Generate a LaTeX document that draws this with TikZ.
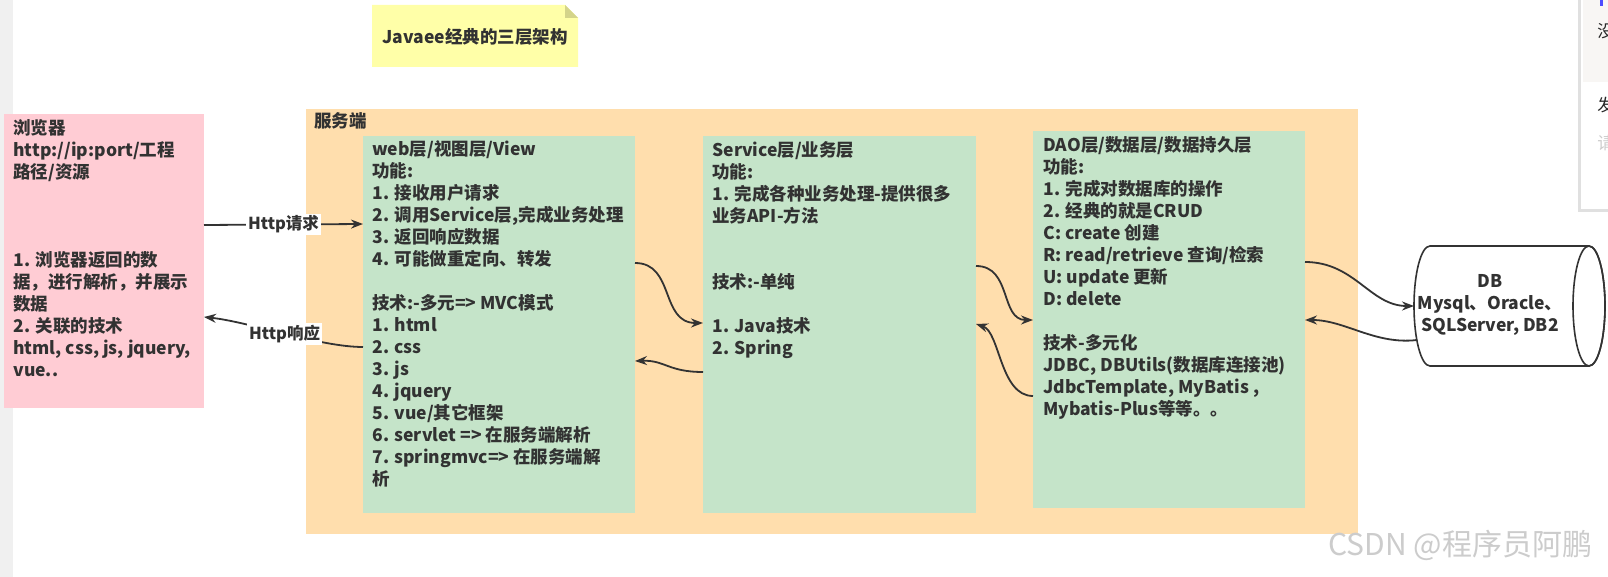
\documentclass[tikz,border=0pt]{standalone}
\usepackage{fontspec}
\setmainfont{Noto Sans CJK SC}
\usetikzlibrary{arrows.meta}
\definecolor{txt}{HTML}{323232}
\definecolor{pinkc}{HTML}{FFCCD4}
\definecolor{orangec}{HTML}{FFDEAD}
\definecolor{greenc}{HTML}{C5E4C9}
\definecolor{notec}{HTML}{FFFFA8}
\definecolor{foldc}{HTML}{D4D48A}
\definecolor{stripc}{HTML}{F0F0F0}
\definecolor{linec}{HTML}{333333}
\definecolor{wmc}{HTML}{CCCCCC}
\definecolor{panelc}{HTML}{F8F6F4}
\begin{document}
\begin{tikzpicture}[x=0.5pt,y=-0.5pt,
  box/.style={anchor=north west, inner sep=0pt, outer sep=0pt, draw=none},
  body/.style={anchor=north west, inner sep=0pt, align=left, text=txt, font=\fontsize{8.75}{11}\selectfont\bfseries},
  arr/.style={draw=linec, line width=0.9pt, -{Stealth[length=6pt,width=4.5pt]}},
  lab/.style={fill=white, inner sep=1pt, text=txt, font=\fontsize{8.25}{10}\selectfont\bfseries},
  dbline/.style={draw=linec, line width=0.8pt},
]
\useasboundingbox (0,0) rectangle (1608,577);
\fill[white] (0,0) rectangle (1608,577);
\fill[stripc] (0,0) rectangle (13,577);

% title note
\fill[notec] (372,5) -- (565,5) -- (578,18) -- (578,67) -- (372,67) -- cycle;
\fill[foldc] (565,5) -- (578,18) -- (565,18) -- cycle;
\node[text=txt, font=\fontsize{8.75}{10}\selectfont\bfseries] (title) at (475,37) {Javaee经典的三层架构};

% boxes
\node[box, fill=pinkc, minimum width=100pt, minimum height=147pt] (browser) at (4,114) {};
\node[box, fill=orangec, minimum width=526pt, minimum height=212.5pt] (server) at (306,109) {};
\node[box, fill=greenc, minimum width=136pt, minimum height=188.5pt] (web) at (363,136) {};
\node[box, fill=greenc, minimum width=136.5pt, minimum height=188.5pt] (service) at (703,136) {};
\node[box, fill=greenc, minimum width=136pt, minimum height=188.5pt] (dao) at (1033,131) {};

\node[anchor=west, inner sep=0pt, text=txt, font=\fontsize{8.75}{11}\selectfont\bfseries] (serverlab) at (314,121) {服务端};

\node[body] (browsertxt) at (13,119) {浏览器\\http://ip:port/工程\\路径/资源\\[33pt]1. 浏览器返回的数\\据，进行解析，并展示\\数据\\2. 关联的技术\\html, css, js, jquery,\\vue..};

\node[body] (webtxt) at (372,140) {web层/视图层/View\\功能:\\1. 接收用户请求\\2. 调用Service层,完成业务处理\\3. 返回响应数据\\4. 可能做重定向、转发\\[11pt]技术:-多元=> MVC模式\\1. html\\2. css\\3. js\\4. jquery\\5. vue/其它框架\\6. servlet => 在服务端解析\\7. springmvc=> 在服务端解\\析};

\node[body] (servicetxt) at (712,141) {Service层/业务层\\功能:\\1. 完成各种业务处理-提供很多\\业务API-方法\\[22pt]技术:-单纯\\[11pt]1. Java技术\\2. Spring};

\node[body] (daotxt) at (1043,136) {DAO层/数据层/数据持久层\\功能:\\1. 完成对数据库的操作\\2. 经典的就是CRUD\\C: create 创建\\R: read/retrieve 查询/检索\\U: update 更新\\D: delete\\[11pt]技术-多元化\\JDBC, DBUtils(数据库连接池)\\JdbcTemplate, MyBatis ,\\Mybatis-Plus等等。。};

% database (horizontal cylinder)
\path[dbline, fill=white] (1430,246) -- (1589,246) arc[start angle=-90, end angle=90, x radius=16, y radius=60] -- (1430,366) arc[start angle=90, end angle=270, x radius=16, y radius=60] -- cycle;
\draw[dbline] (1589,306) ellipse [x radius=16, y radius=60];
\node[box, minimum width=95.5pt, minimum height=60pt] (db) at (1414,246) {};
\node[align=center, inner sep=0pt, text=txt, font=\fontsize{8.75}{11}\selectfont\bfseries] (dbtxt) at (1490,305) {DB\\Mysql、Oracle、\\SQLServer, DB2};
\coordinate (dbout) at (1417,340);

% connectors
\draw[arr] (browser.east |- 0,225) -- node[lab] (reqlab) {Http请求} (web.west |- 0,224);
\draw[arr] (web.west |- 0,347) .. controls (320,347) and (250,322) .. node[lab, pos=0.5] (resplab) {Http响应} (browser.east |- 0,317);
\draw[arr] (web.east |- 0,263) .. controls (675,263) and (660,323) .. (service.west |- 0,323);
\draw[arr] (service.west |- 0,372) .. controls (668,372) and (665,360) .. (web.east |- 0,361);
\draw[arr] (service.east |- 0,266) .. controls (1012,266) and (1000,320) .. (dao.west |- 0,320);
\draw[arr] (dao.west |- 0,396) .. controls (1000,396) and (1000,332) .. (service.east |- 0,324);
\draw[arr] (dao.east |- 0,262) .. controls (1355,262) and (1370,306) .. (db.west);
\draw[arr] (dbout) .. controls (1375,345) and (1345,320) .. (dao.east |- 0,320);

% watermark
\node[anchor=west, inner sep=0pt, text=wmc, font=\fontsize{15}{15}\selectfont] (wm) at (1328,545) {CSDN @程序员阿鹏};

% clipped side panel
\begin{scope}
\clip (0,0) rectangle (1608,577);
\fill[black!12] (1578,0) rectangle (1610,212);
\fill[white] (1581,0) rectangle (1610,209);
\fill[panelc] (1583,0) rectangle (1610,82);
\fill[blue!70] (1600,0) rectangle (1603,6);
\node[anchor=west, inner sep=0pt, text=black!85, font=\fontsize{8.5}{8.5}\selectfont] (p1) at (1597,31) {没};
\node[anchor=west, inner sep=0pt, text=black!85, font=\fontsize{8.5}{8.5}\selectfont] (p2) at (1597,105) {发};
\node[anchor=west, inner sep=0pt, text=black!20, font=\fontsize{8.5}{8.5}\selectfont] (p3) at (1597,143) {请};
\end{scope}
\end{tikzpicture}
\end{document}
